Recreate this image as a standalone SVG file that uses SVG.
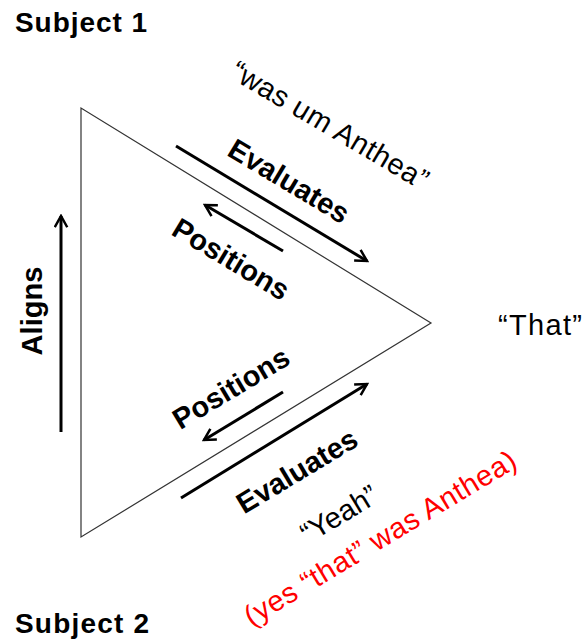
<svg xmlns="http://www.w3.org/2000/svg" width="584" height="642" viewBox="0 0 584 642">
<style>
.b{font-family:"Liberation Sans",Arial,sans-serif;font-weight:bold;font-size:29px;fill:#000;text-anchor:middle;dominant-baseline:central}
.r{font-family:"Liberation Sans",Arial,sans-serif;font-size:29px;fill:#000;text-anchor:middle;dominant-baseline:central}
.arr{stroke:#000;stroke-width:3;fill:none;marker-end:url(#ah)}
</style>
<defs>
<marker id="ah" viewBox="0 0 12 12" refX="10" refY="6" markerWidth="5" markerHeight="5" orient="auto" markerUnits="strokeWidth">
<path d="M1,1 L10,6 L1,11" fill="none" stroke="#000" stroke-width="2"/>
</marker>
</defs>
<g id="triangle"><polygon points="81,108 81,537 431,323" fill="none" stroke="#333" stroke-width="1.2"/></g>
<g id="subject1"><text x="15" y="32" font-family="Liberation Sans, Arial, sans-serif" font-weight="bold" font-size="28" textLength="132">Subject 1</text></g>
<g id="subject2"><text x="15" y="633" font-family="Liberation Sans, Arial, sans-serif" font-weight="bold" font-size="28" textLength="134">Subject 2</text></g>
<g id="that"><text x="498" y="335" font-family="Liberation Sans, Arial, sans-serif" font-size="29" textLength="84">“That”</text></g>
<g id="connectors">
<line class="arr" x1="176" y1="146" x2="367" y2="261"/>
<line class="arr" x1="283" y1="251" x2="205" y2="205"/>
<line class="arr" x1="283" y1="392" x2="204" y2="440"/>
<line class="arr" x1="181" y1="498" x2="367" y2="384"/>
<line class="arr" x1="61" y1="432" x2="61" y2="216"/>
</g>
<g id="labels">
<text class="b" transform="translate(289,181) rotate(31)">Evaluates</text>
<text class="b" transform="translate(231,259) rotate(31)">Positions</text>
<text class="r" transform="translate(330,125) rotate(30.5)" textLength="224">“was um Anthea”</text>
<text class="b" transform="translate(231,388) rotate(-31)">Positions</text>
<text class="b" transform="translate(297,471) rotate(-31)">Evaluates</text>
<text class="b" transform="translate(32,311) rotate(-90)" textLength="89">Aligns</text>
<text class="r" transform="translate(339,514) rotate(-31)" font-size="28">“Yeah”</text>
<text class="r" transform="translate(380,538) rotate(-31)" style="fill:#ff0000" font-size="31" textLength="312">(yes “that” was Anthea)</text>
</g>
</svg>
